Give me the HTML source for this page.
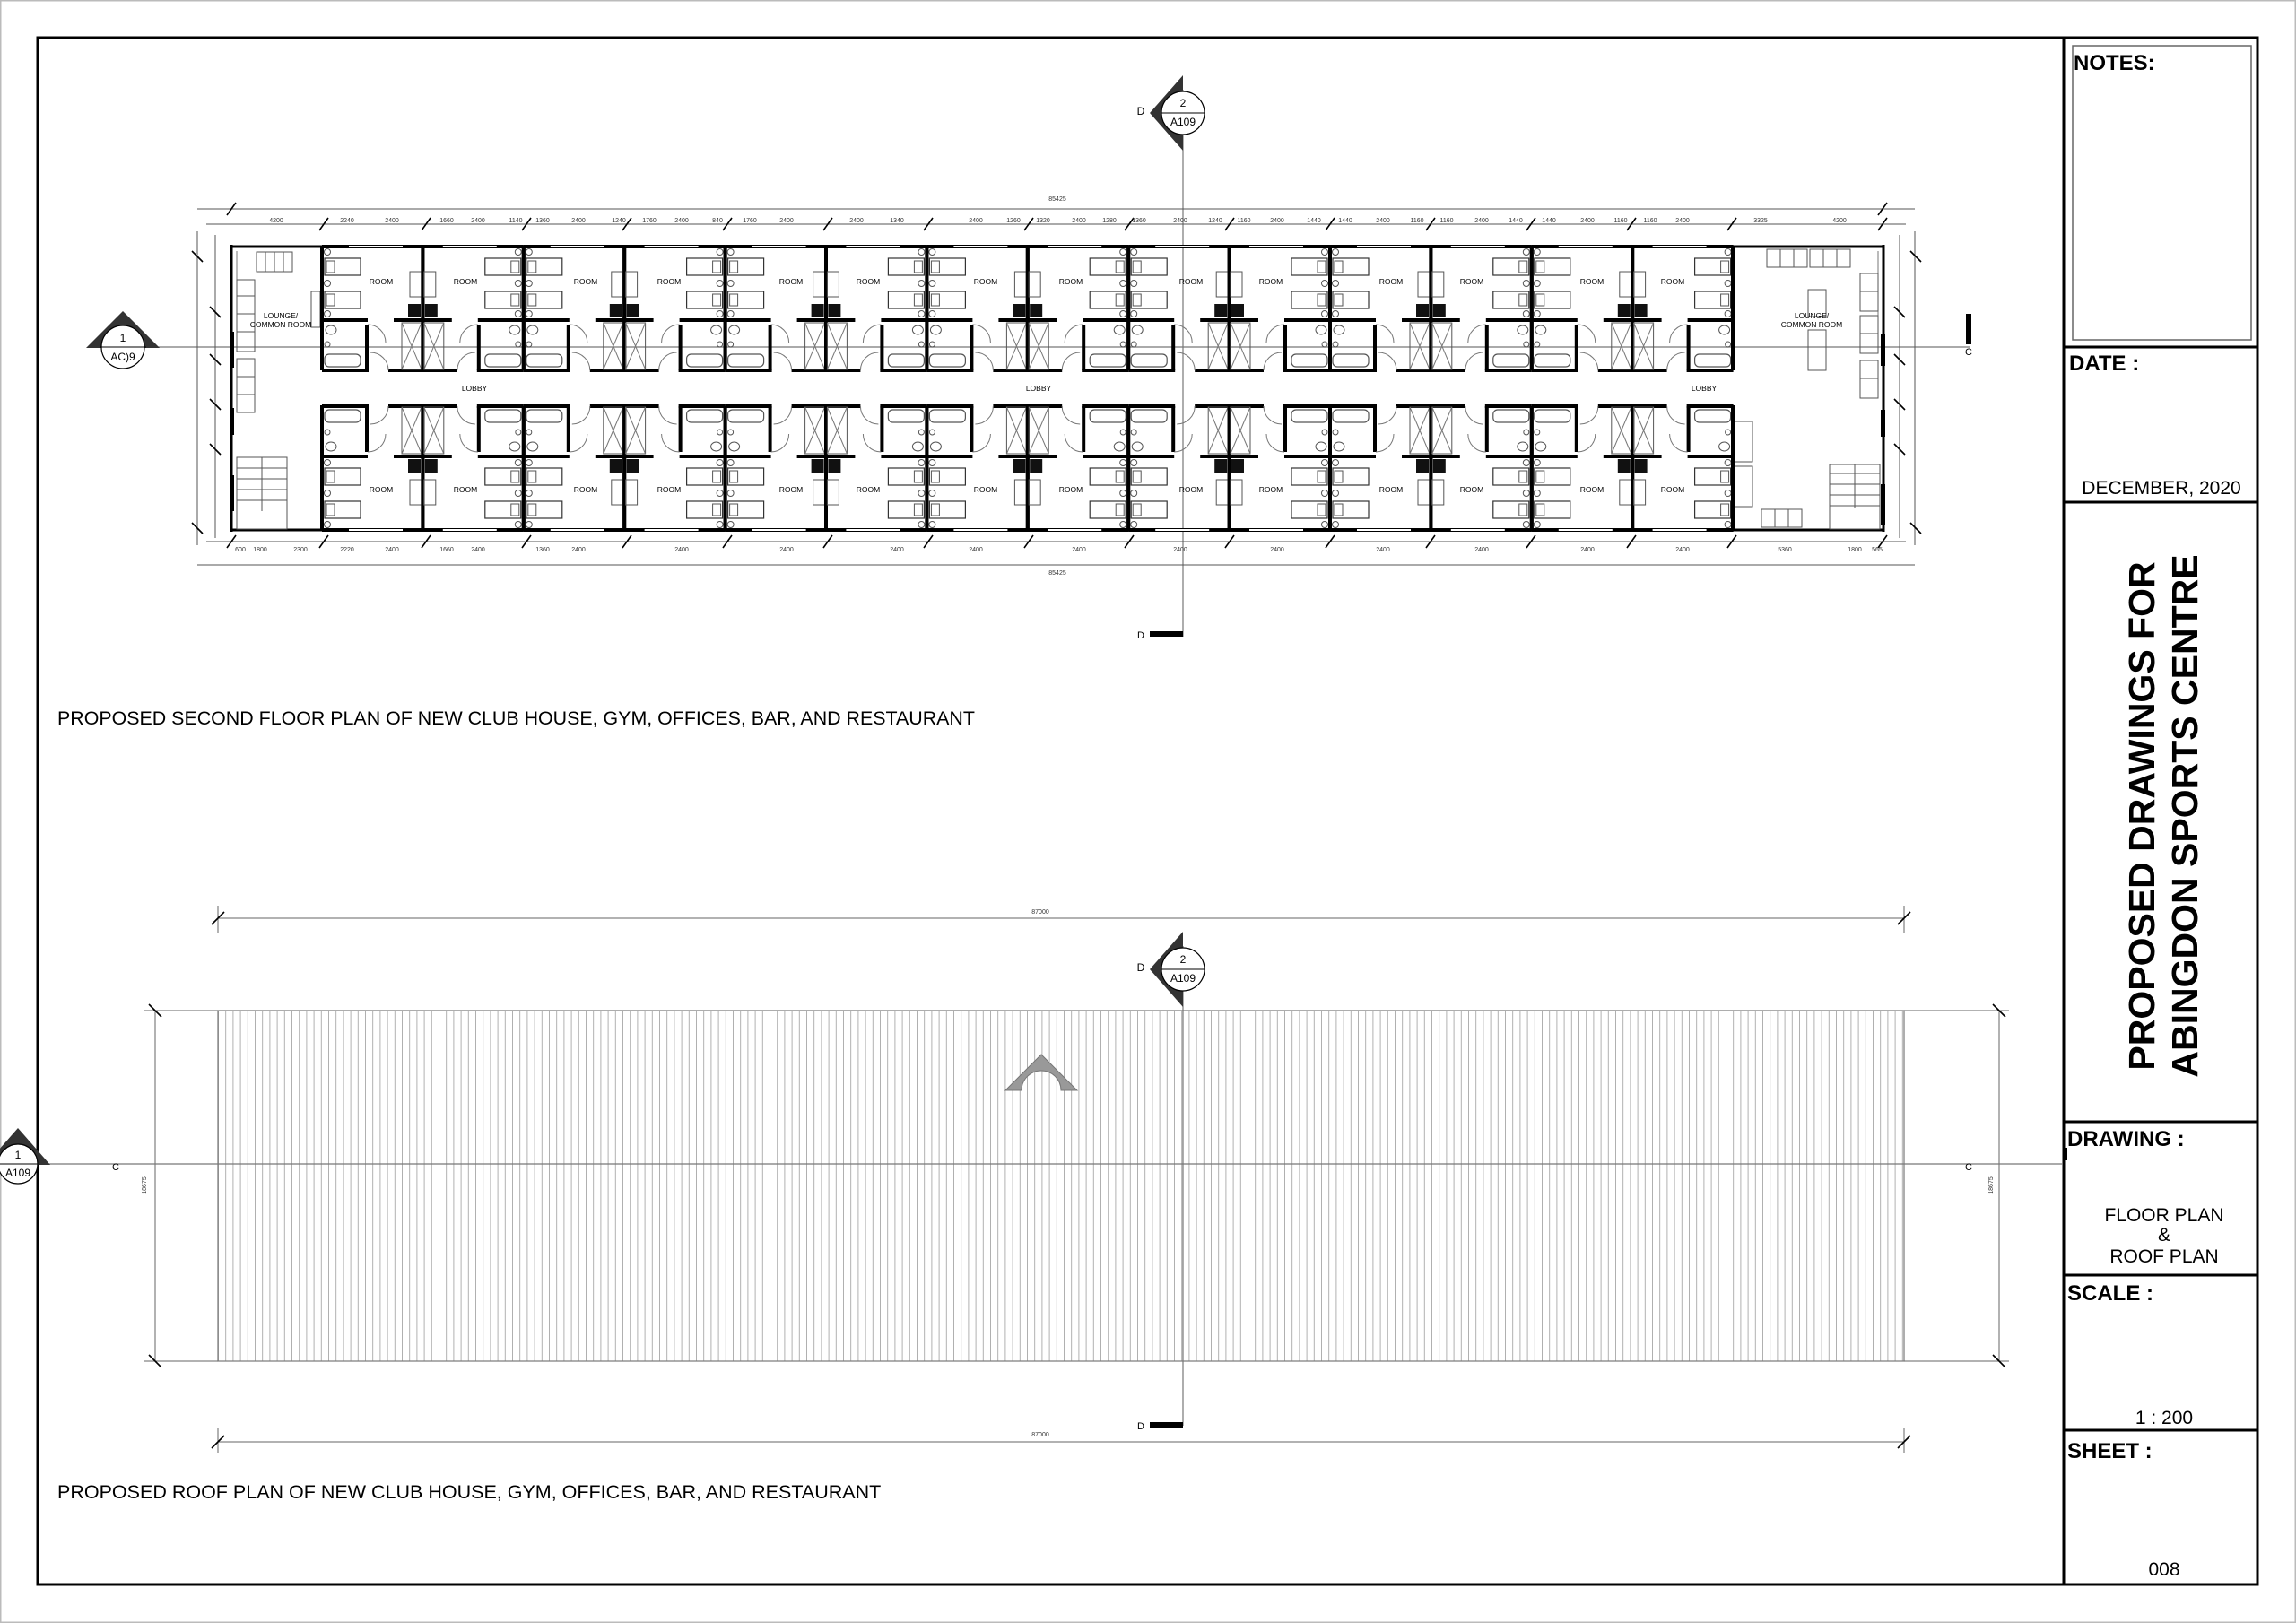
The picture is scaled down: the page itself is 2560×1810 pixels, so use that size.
<!DOCTYPE html>
<html><head><meta charset="utf-8"><style>
html,body{margin:0;padding:0;background:#fff;}
svg{display:block;font-family:"Liberation Sans",Arial,sans-serif;}
</style></head><body>
<svg width="2560" height="1810" viewBox="0 0 2560 1810" xmlns="http://www.w3.org/2000/svg">
<defs>
<pattern id="roof" x="243" y="0" width="8.2" height="20" patternUnits="userSpaceOnUse">
<line x1="0.5" y1="0" x2="0.5" y2="20" stroke="#a8a8a8" stroke-width="0.9"/>
</pattern>
<g id="room">
 <line x1="0" y1="275" x2="0" y2="413" stroke="#000" stroke-width="4"/>
 <line x1="112.4" y1="275" x2="112.4" y2="413" stroke="#000" stroke-width="4"/>
 <rect x="3" y="288" width="40" height="19" fill="#fff" stroke="#333" stroke-width="1.2"/>
 <rect x="5" y="291" width="9" height="13" fill="none" stroke="#555" stroke-width="1"/>
 <rect x="3" y="325" width="40" height="19" fill="#fff" stroke="#333" stroke-width="1.2"/>
 <rect x="5" y="328" width="9" height="13" fill="none" stroke="#555" stroke-width="1"/>
 <circle cx="6" cy="281" r="3.5" fill="none" stroke="#555"/>
 <circle cx="6" cy="316" r="3.5" fill="none" stroke="#555"/>
 <circle cx="6" cy="350" r="3.5" fill="none" stroke="#555"/>
 <line x1="0" y1="357" x2="51" y2="357" stroke="#000" stroke-width="4"/>
 <line x1="50" y1="362" x2="50" y2="413" stroke="#000" stroke-width="4"/>
 <rect x="3" y="395" width="40" height="14" rx="5" fill="none" stroke="#555" stroke-width="1.2"/>
 <ellipse cx="10" cy="368" rx="6" ry="5" fill="none" stroke="#555"/>
 <circle cx="6" cy="384" r="3" fill="none" stroke="#555"/>
 <path d="M51 362 A20 20 0 0 1 71 382" fill="none" stroke="#777"/>
 <line x1="0" y1="413" x2="52" y2="413" stroke="#000" stroke-width="4"/>
 <line x1="74" y1="413" x2="113" y2="413" stroke="#000" stroke-width="4"/>
 <path d="M74 413 A20 20 0 0 0 54 393" fill="none" stroke="#777"/>
 <line x1="80" y1="357" x2="113" y2="357" stroke="#000" stroke-width="4"/>
 <rect x="89" y="360" width="22" height="52" fill="none" stroke="#555" stroke-width="1"/>
 <line x1="89" y1="360" x2="111" y2="412" stroke="#777"/>
 <line x1="111" y1="360" x2="89" y2="412" stroke="#777"/>
 <path d="M96 339 h14 v15 h-14 z" fill="#111"/>
 <rect x="98" y="303" width="13" height="28" fill="none" stroke="#555"/>
 <line x1="0" y1="275" x2="113" y2="275" stroke="#000" stroke-width="4"/>
 <line x1="30" y1="275" x2="90" y2="275" stroke="#fff" stroke-width="2"/>
</g>
</defs>

<rect x="0.5" y="0.5" width="2559" height="1809" fill="none" stroke="#bbb" stroke-width="2"/>
<rect x="42" y="42" width="2475" height="1725" fill="none" stroke="#000" stroke-width="3"/>
<line x1="2301" y1="42" x2="2301" y2="1767" stroke="#000" stroke-width="3"/>
<rect x="2311" y="51" width="199" height="328" fill="none" stroke="#666" stroke-width="1.5"/>
<g stroke="#000" stroke-width="3">
<line x1="2301" y1="387" x2="2517" y2="387"/>
<line x1="2301" y1="560" x2="2517" y2="560"/>
<line x1="2301" y1="1251" x2="2517" y2="1251"/>
<line x1="2301" y1="1422" x2="2517" y2="1422"/>
<line x1="2301" y1="1595" x2="2517" y2="1595"/>
</g>
<g font-weight="bold" font-size="24" fill="#000">
<text x="2312" y="78">NOTES:</text>
<text x="2307" y="413">DATE :</text>
<text x="2305" y="1278">DRAWING :</text>
<text x="2305" y="1450">SCALE :</text>
<text x="2305" y="1626">SHEET :</text>
</g>
<g font-size="21" fill="#000" text-anchor="middle">
<text x="2410" y="551">DECEMBER, 2020</text>
<text x="2413" y="1362">FLOOR PLAN</text>
<text x="2413" y="1384">&amp;</text>
<text x="2413" y="1408">ROOF PLAN</text>
<text x="2413" y="1588">1 : 200</text>
<text x="2413" y="1757">008</text>
</g>
<g font-weight="bold" font-size="41" fill="#000" text-anchor="middle">
<text transform="translate(2402,910) rotate(-90)">PROPOSED DRAWINGS FOR</text>
<text transform="translate(2450,910) rotate(-90)">ABINGDON SPORTS CENTRE</text>
</g>
<rect x="2300" y="1280" width="5" height="14" fill="#000"/>

<!-- ===== FLOOR PLAN ===== -->
<line x1="1319" y1="100" x2="1319" y2="710" stroke="#777" stroke-width="1.2"/>
<line x1="98" y1="387" x2="2196" y2="387" stroke="#777" stroke-width="1.2"/>
<g stroke="#555" stroke-width="1">
<line x1="220" y1="233" x2="2135" y2="233"/>
<line x1="230" y1="250" x2="2125" y2="250"/>
<line x1="230" y1="604" x2="2125" y2="604"/>
<line x1="220" y1="630" x2="2135" y2="630"/>
<line x1="220" y1="258" x2="220" y2="608"/>
<line x1="240" y1="262" x2="240" y2="600"/>
<line x1="2118" y1="262" x2="2118" y2="600"/>
<line x1="2135" y1="258" x2="2135" y2="608"/>
</g>
<g stroke="#000" stroke-width="1.6">
<path d="M253 240 l10 -14 M356 257 l10 -14 M470 257 l10 -14 M582 257 l10 -14 M694 257 l10 -14 M806 257 l10 -14 M918 257 l10 -14 M1030 257 l10 -14 M1142 257 l10 -14 M1254 257 l10 -14 M1366 257 l10 -14 M1478 257 l10 -14 M1590 257 l10 -14 M1702 257 l10 -14 M1814 257 l10 -14 M1926 257 l10 -14 M2094 257 l10 -14 M2094 240 l10 -14"/>
<path d="M253 611 l10 -14 M356 611 l10 -14 M470 611 l10 -14 M582 611 l10 -14 M694 611 l10 -14 M806 611 l10 -14 M918 611 l10 -14 M1030 611 l10 -14 M1142 611 l10 -14 M1254 611 l10 -14 M1366 611 l10 -14 M1478 611 l10 -14 M1590 611 l10 -14 M1702 611 l10 -14 M1814 611 l10 -14 M1926 611 l10 -14 M2094 611 l10 -14"/>
<path d="M214 280 l12 12 M214 583 l12 12 M2130 280 l12 12 M2130 583 l12 12 M234 342 l12 12 M234 395 l12 12 M234 445 l12 12 M234 495 l12 12 M2112 342 l12 12 M2112 395 l12 12 M2112 445 l12 12 M2112 495 l12 12"/>
</g>
<g font-size="7" fill="#333" text-anchor="middle">
<text x="1179" y="224">85425</text>
<text x="1179" y="641">85425</text>
<text x="308" y="248">4200</text><text x="387" y="248">2240</text><text x="437" y="248">2400</text><text x="498" y="248">1660</text><text x="533" y="248">2400</text><text x="575" y="248">1140</text><text x="605" y="248">1360</text><text x="645" y="248">2400</text><text x="690" y="248">1240</text><text x="724" y="248">1760</text><text x="760" y="248">2400</text><text x="800" y="248">840</text><text x="836" y="248">1760</text><text x="877" y="248">2400</text><text x="955" y="248">2400</text><text x="1000" y="248">1340</text><text x="1088" y="248">2400</text><text x="1130" y="248">1260</text><text x="1163" y="248">1320</text><text x="1203" y="248">2400</text><text x="1237" y="248">1280</text><text x="1270" y="248">1360</text><text x="1316" y="248">2400</text><text x="1355" y="248">1240</text><text x="1387" y="248">1160</text><text x="1424" y="248">2400</text><text x="1465" y="248">1440</text><text x="1500" y="248">1440</text><text x="1542" y="248">2400</text><text x="1580" y="248">1160</text><text x="1613" y="248">1160</text><text x="1652" y="248">2400</text><text x="1690" y="248">1440</text><text x="1727" y="248">1440</text><text x="1770" y="248">2400</text><text x="1807" y="248">1160</text><text x="1840" y="248">1160</text><text x="1876" y="248">2400</text><text x="1963" y="248">3325</text><text x="2051" y="248">4200</text>
<text x="268" y="615">600</text><text x="290" y="615">1800</text><text x="335" y="615">2300</text><text x="387" y="615">2220</text><text x="437" y="615">2400</text><text x="498" y="615">1660</text><text x="533" y="615">2400</text><text x="605" y="615">1360</text><text x="645" y="615">2400</text><text x="760" y="615">2400</text><text x="877" y="615">2400</text><text x="1000" y="615">2400</text><text x="1088" y="615">2400</text><text x="1203" y="615">2400</text><text x="1316" y="615">2400</text><text x="1424" y="615">2400</text><text x="1542" y="615">2400</text><text x="1652" y="615">2400</text><text x="1770" y="615">2400</text><text x="1876" y="615">2400</text><text x="1990" y="615">5360</text><text x="2068" y="615">1800</text><text x="2093" y="615">565</text>
</g>

<g stroke="#000" fill="none">
<line x1="258" y1="275" x2="2100" y2="275" stroke-width="3"/>
<line x1="258" y1="591" x2="2100" y2="591" stroke-width="3"/>
<line x1="258" y1="273" x2="258" y2="593" stroke-width="3"/>
<line x1="2100" y1="273" x2="2100" y2="593" stroke-width="3"/>
<line x1="264" y1="280" x2="264" y2="370" stroke-width="1" stroke="#777"/>
<line x1="2094" y1="280" x2="2094" y2="370" stroke-width="1" stroke="#777"/>
</g>
<rect x="256" y="370" width="5" height="40" fill="#000"/>
<rect x="256" y="455" width="5" height="30" fill="#000"/>
<rect x="256" y="530" width="5" height="40" fill="#000"/>
<rect x="2097" y="372" width="5" height="36" fill="#000"/>
<rect x="2097" y="457" width="5" height="30" fill="#000"/>
<rect x="2097" y="540" width="5" height="45" fill="#000"/>

<g id="upper">
<use href="#room" transform="translate(359.0,0)"/>
<use href="#room" transform="translate(583.8,0) scale(-1,1)"/>
<use href="#room" transform="translate(583.8,0)"/>
<use href="#room" transform="translate(808.6,0) scale(-1,1)"/>
<use href="#room" transform="translate(808.6,0)"/>
<use href="#room" transform="translate(1033.4,0) scale(-1,1)"/>
<use href="#room" transform="translate(1033.4,0)"/>
<use href="#room" transform="translate(1258.2,0) scale(-1,1)"/>
<use href="#room" transform="translate(1258.2,0)"/>
<use href="#room" transform="translate(1483.0,0) scale(-1,1)"/>
<use href="#room" transform="translate(1483.0,0)"/>
<use href="#room" transform="translate(1707.8,0) scale(-1,1)"/>
<use href="#room" transform="translate(1707.8,0)"/>
<use href="#room" transform="translate(1932.6,0) scale(-1,1)"/>
</g>
<use href="#upper" transform="translate(0,866) scale(1,-1)"/>

<g fill="none" stroke="#555" stroke-width="1">
<rect x="286" y="281" width="40" height="22"/><path d="M296 281v22M306 281v22M316 281v22"/>
<rect x="264" y="312" width="20" height="80"/><rect x="264" y="400" width="20" height="60"/>
<path d="M264 330h20M264 350h20M264 370h20M264 420h20M264 440h20"/>
<rect x="347" y="325" width="10" height="40"/>
<rect x="264" y="510" width="56" height="80"/><path d="M292 510v60M264 522h56M264 534h56M264 546h56M264 558h56"/>
<rect x="1970" y="278" width="45" height="20"/><rect x="2018" y="278" width="45" height="20"/>
<path d="M1985 278v20M2000 278v20M2033 278v20M2048 278v20"/>
<rect x="2074" y="305" width="20" height="42"/><rect x="2074" y="352" width="20" height="42"/><rect x="2074" y="402" width="20" height="42"/>
<path d="M2074 325h20M2074 372h20M2074 422h20"/>
<rect x="2016" y="323" width="20" height="30"/><rect x="2016" y="368" width="20" height="45"/>
<rect x="1934" y="470" width="20" height="45"/><rect x="1934" y="520" width="20" height="45"/>
<rect x="1964" y="568" width="45" height="20"/><path d="M1979 568v20M1994 568v20"/>
<rect x="2040" y="518" width="56" height="72"/><path d="M2068 518v48M2040 528h56M2040 540h56M2040 552h56M2040 564h56"/>
</g>
<line x1="1932" y1="275" x2="1932" y2="413" stroke="#000" stroke-width="4"/>
<line x1="1932" y1="452" x2="1932" y2="591" stroke="#000" stroke-width="4"/>
<line x1="359" y1="275" x2="359" y2="413" stroke="#000" stroke-width="4"/>
<line x1="359" y1="452" x2="359" y2="591" stroke="#000" stroke-width="4"/>

<g font-size="8.5" fill="#000" text-anchor="middle">
<text x="425" y="317">ROOM</text><text x="519" y="317">ROOM</text><text x="653" y="317">ROOM</text><text x="746" y="317">ROOM</text><text x="882" y="317">ROOM</text><text x="968" y="317">ROOM</text><text x="1099" y="317">ROOM</text><text x="1194" y="317">ROOM</text><text x="1328" y="317">ROOM</text><text x="1417" y="317">ROOM</text><text x="1551" y="317">ROOM</text><text x="1641" y="317">ROOM</text><text x="1775" y="317">ROOM</text><text x="1865" y="317">ROOM</text>
<text x="425" y="549">ROOM</text><text x="519" y="549">ROOM</text><text x="653" y="549">ROOM</text><text x="746" y="549">ROOM</text><text x="882" y="549">ROOM</text><text x="968" y="549">ROOM</text><text x="1099" y="549">ROOM</text><text x="1194" y="549">ROOM</text><text x="1328" y="549">ROOM</text><text x="1417" y="549">ROOM</text><text x="1551" y="549">ROOM</text><text x="1641" y="549">ROOM</text><text x="1775" y="549">ROOM</text><text x="1865" y="549">ROOM</text>
<text x="529" y="436">LOBBY</text><text x="1158" y="436">LOBBY</text><text x="1900" y="436">LOBBY</text>
<text x="313" y="355">LOUNGE/</text><text x="313" y="365">COMMON ROOM</text>
<text x="2020" y="355">LOUNGE/</text><text x="2020" y="365">COMMON ROOM</text>
</g>

<g>
<path d="M1319 84 L1282 126 L1319 168 Z" fill="#333"/>
<circle cx="1319" cy="126" r="24" fill="#fff" stroke="#000" stroke-width="1.2"/>
<line x1="1295" y1="126" x2="1343" y2="126" stroke="#000"/>
<text x="1319" y="119" font-size="12" text-anchor="middle">2</text>
<text x="1319" y="140" font-size="12" text-anchor="middle">A109</text>
<text x="1272" y="128" font-size="12" text-anchor="middle">D</text>
</g>
<rect x="1282" y="704" width="37" height="6" fill="#000"/>
<text x="1272" y="712" font-size="11" text-anchor="middle">D</text>
<g>
<path d="M96 388 L137 347 L178 388 Z" fill="#333"/>
<circle cx="137" cy="387" r="24" fill="#fff" stroke="#000" stroke-width="1.2"/>
<line x1="111" y1="387" x2="163" y2="387" stroke="#000"/>
<text x="137" y="381" font-size="12" text-anchor="middle">1</text>
<text x="137" y="402" font-size="12" text-anchor="middle">AC)9</text>
</g>
<rect x="2192" y="350" width="6" height="34" fill="#000"/>
<text x="2195" y="396" font-size="11" text-anchor="middle">C</text>

<text x="64" y="808" font-size="21.4">PROPOSED SECOND FLOOR PLAN OF NEW CLUB HOUSE, GYM, OFFICES, BAR, AND RESTAURANT</text>

<!-- ===== ROOF PLAN ===== -->
<rect x="243" y="1127" width="1880" height="391" fill="url(#roof)" stroke="#777" stroke-width="1.2"/>
<g stroke="#666" stroke-width="1">
<line x1="243" y1="1024" x2="2123" y2="1024"/>
<line x1="243" y1="1608" x2="2123" y2="1608"/>
<line x1="243" y1="1010" x2="243" y2="1040"/><line x1="2123" y1="1010" x2="2123" y2="1040"/>
<line x1="243" y1="1592" x2="243" y2="1620"/><line x1="2123" y1="1592" x2="2123" y2="1620"/>
<line x1="173" y1="1127" x2="173" y2="1518"/>
<line x1="2229" y1="1127" x2="2229" y2="1518"/>
<line x1="160" y1="1127" x2="243" y2="1127"/><line x1="160" y1="1518" x2="243" y2="1518"/>
<line x1="2123" y1="1127" x2="2240" y2="1127"/><line x1="2123" y1="1518" x2="2240" y2="1518"/>
</g>
<g stroke="#000" stroke-width="1.6">
<path d="M236 1031 l14 -14 M2116 1031 l14 -14 M236 1615 l14 -14 M2116 1615 l14 -14 M166 1120 l14 14 M166 1511 l14 14 M2222 1120 l14 14 M2222 1511 l14 14"/>
</g>
<text x="1160" y="1019" font-size="7" fill="#333" text-anchor="middle">87000</text>
<text x="1160" y="1602" font-size="7" fill="#333" text-anchor="middle">87000</text>
<text transform="translate(163,1322) rotate(-90)" font-size="7" fill="#333" text-anchor="middle">18675</text>
<text transform="translate(2222,1322) rotate(-90)" font-size="7" fill="#333" text-anchor="middle">18675</text>
<line x1="0" y1="1298" x2="2300" y2="1298" stroke="#777" stroke-width="1.2"/>
<line x1="1319" y1="1055" x2="1319" y2="1590" stroke="#777" stroke-width="1.2"/>
<path d="M1121 1216 L1161 1176 L1201 1216 L1183 1216 A22 22 0 0 0 1139 1216 Z" fill="#999" stroke="#777"/>
<g>
<path d="M1319 1039 L1282 1081 L1319 1123 Z" fill="#333"/>
<circle cx="1319" cy="1081" r="24" fill="#fff" stroke="#000" stroke-width="1.2"/>
<line x1="1295" y1="1081" x2="1343" y2="1081" stroke="#000"/>
<text x="1319" y="1074" font-size="12" text-anchor="middle">2</text>
<text x="1319" y="1095" font-size="12" text-anchor="middle">A109</text>
<text x="1272" y="1083" font-size="12" text-anchor="middle">D</text>
</g>
<rect x="1282" y="1586" width="37" height="6" fill="#000"/>
<text x="1272" y="1594" font-size="11" text-anchor="middle">D</text>
<g>
<path d="M-16 1299 L20 1258 L56 1299 Z" fill="#333"/>
<circle cx="20" cy="1298" r="22" fill="#fff" stroke="#000" stroke-width="1.2"/>
<line x1="-2" y1="1298" x2="42" y2="1298" stroke="#000"/>
<text x="20" y="1292" font-size="12" text-anchor="middle">1</text>
<text x="20" y="1312" font-size="12" text-anchor="middle">A109</text>
</g>
<text x="129" y="1305" font-size="11" text-anchor="middle">C</text>
<text x="2195" y="1305" font-size="11" text-anchor="middle">C</text>

<text x="64" y="1671" font-size="21.5">PROPOSED ROOF PLAN OF NEW CLUB HOUSE, GYM, OFFICES, BAR, AND RESTAURANT</text>
</svg>
</body></html>
